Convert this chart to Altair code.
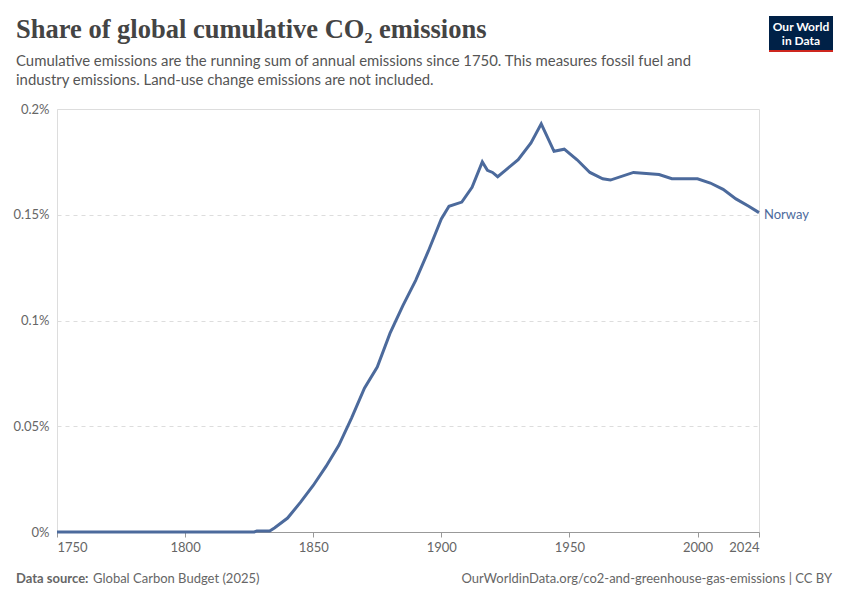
import pandas as pd
import altair as alt

years = [1750, 1800, 1827, 1828, 1833, 1835, 1840, 1845, 1850, 1855, 1860, 1865, 1870, 1875,
         1880, 1885, 1890, 1895, 1900, 1903, 1908, 1912, 1916, 1918, 1920, 1922, 1925, 1930,
         1935, 1939, 1944, 1948, 1953, 1958, 1963, 1966, 1975, 1985, 1990, 2000, 2005, 2010,
         2015, 2020, 2024]
share = [0, 0, 0, 0.0005, 0.0005, 0.002, 0.0066, 0.014, 0.022, 0.031, 0.041, 0.054, 0.068, 0.078,
         0.094, 0.107, 0.119, 0.133, 0.148, 0.154, 0.156, 0.163, 0.175, 0.171, 0.170, 0.168, 0.171, 0.176,
         0.184, 0.193, 0.180, 0.181, 0.176, 0.170, 0.167, 0.1664, 0.170, 0.169, 0.167, 0.167, 0.165, 0.162,
         0.1575, 0.154, 0.151]
x_ticks = [1750, 1800, 1850, 1900, 1950, 2000, 2024]
y_ticks = [0, 0.05, 0.1, 0.15, 0.2]

df = pd.DataFrame({"year": years, "share": share})
blue = "#4c6a9c"
W, H = 702, 423

x = alt.X("year:Q", scale=alt.Scale(domain=[1750, 2024], nice=False), title=None,
          axis=alt.Axis(values=x_ticks, format="d", labelFlush=True, grid=False, domainColor="#999",
                        tickColor="#999", labelColor="#666", labelFontSize=13, labelFont="Lato", labelPadding=4))
y = alt.Y("share:Q", scale=alt.Scale(domain=[0, 0.2], nice=False), title=None,
          axis=alt.Axis(values=y_ticks, labelExpr="datum.value + '%'", domain=False, ticks=False,
                        gridDash=[4, 4], gridColor="#ddd", labelColor="#666", labelFontSize=13,
                        labelFont="Lato", labelPadding=8))

line = alt.Chart(df).mark_line(color=blue, strokeWidth=3).encode(x=x, y=y)
label = alt.Chart(df.tail(1)).mark_text(align="left", dx=5, dy=2, color=blue, fontSize=13, font="Lato").encode(
    x=x, y=y, text=alt.value("Norway"))

def txt(s, xp, yp, size=14, color="#555", font="Lato", weight="normal", align="left"):
    return alt.Chart(df.head(1)).mark_text(align=align, baseline="alphabetic", fontSize=size, color=color,
                                           font=font, fontWeight=weight).encode(
        x=alt.value(xp), y=alt.value(yp), text=alt.value(s))

title = txt("Share of global cumulative CO₂ emissions", -41, -71, 26.5, "#444", "Liberation Serif", "bold")
sub1 = txt("Cumulative emissions are the running sum of annual emissions since 1750. This measures fossil fuel and",
           -41, -43, 14.9)
sub2 = txt("industry emissions. Land-use change emissions are not included.", -41, -24, 14.9)
foot1 = txt("Data source:", -41, 474, 13, "#666", weight="bold")
foot2 = txt("Global Carbon Budget (2025)", 36, 474, 13, "#666")
foot3 = txt("OurWorldinData.org/co2-and-greenhouse-gas-emissions | CC BY", 775, 474, 13, "#666", align="right")

logo = alt.Chart(df.head(1)).mark_rect(color="#002147").encode(
    x=alt.value(712), x2=alt.value(776), y=alt.value(-93), y2=alt.value(-59))
logo_red = alt.Chart(df.head(1)).mark_rect(color="#ce261e").encode(
    x=alt.value(712), x2=alt.value(776), y=alt.value(-59), y2=alt.value(-57))
logo1 = txt("Our World", 744, -78, 12, "white", align="center", weight="bold")
logo2 = txt("in Data", 744, -64, 12, "white", align="center", weight="bold")

chart = alt.layer(line, label, title, sub1, sub2, foot1, foot2, foot3,
                  logo, logo_red, logo1, logo2).properties(
    width=W, height=H, autosize=alt.AutoSizeParams(type="none"),
    padding={"left": 49, "top": 101, "right": 75, "bottom": 60}
).configure_view(stroke=None).configure(background="white")

chart.save("out.html", embed_options={"renderer": "svg", "actions": False})
